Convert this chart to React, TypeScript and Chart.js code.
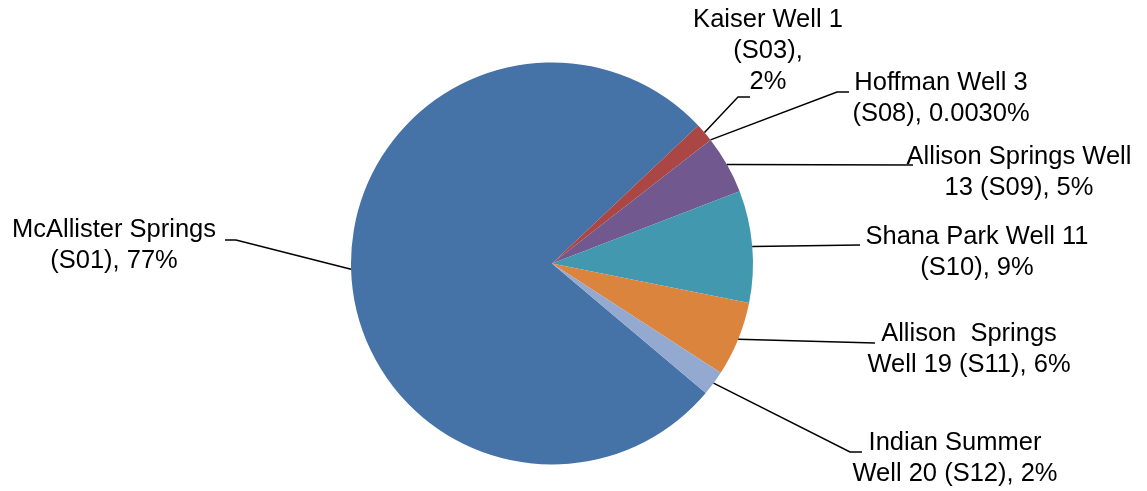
import React, { useEffect, useRef } from "react";
import { Chart, registerables } from "chart.js";

Chart.register(...registerables);

const categories: string[][] = [
  ["McAllister Springs", "(S01), 77%"],
  ["Kaiser Well 1", "(S03),", "2%"],
  ["Hoffman Well 3", "(S08), 0.0030%"],
  ["Allison Springs Well", "13 (S09), 5%"],
  ["Shana Park Well 11", "(S10), 9%"],
  ["Allison  Springs", "Well 19 (S11), 6%"],
  ["Indian Summer", "Well 20 (S12), 2%"],
];

const shares: number[] = [76.9, 1.5, 0.003, 4.7, 9.0, 6.0, 2.0];

const sliceColors: string[] = [
  "#4572A7",
  "#AA4643",
  "#89A54E",
  "#71588F",
  "#4198AF",
  "#DB843D",
  "#93A9CF",
];

// label layout: text center x, first line center y, leader bend points
const labelLayout = [
  { cx: 114, cy: 230, bends: [[236, 240], [225, 240]] },
  { cx: 768, cy: 20, bends: [[738, 97], [750, 97]] },
  { cx: 941, cy: 83, bends: [[837, 92], [849, 92]] },
  { cx: 1019, cy: 157, bends: [[913, 165]] },
  { cx: 977, cy: 237, bends: [[860, 245]] },
  { cx: 969, cy: 334, bends: [[875, 343]] },
  { cx: 955, cy: 443, bends: [[850, 452], [862, 452]] },
];

const FONT = "25.5px 'Liberation Sans', Arial, sans-serif";
const LINE_H = 31;

const labelPlugin = {
  id: "pieLabels",
  afterDraw(chart: any) {
    const ctx = chart.ctx as CanvasRenderingContext2D;
    const meta = chart.getDatasetMeta(0);
    ctx.save();
    meta.data.forEach((arc: any, i: number) => {
      const p = arc.getProps(["x", "y", "startAngle", "endAngle", "outerRadius"], true);
      const mid = (p.startAngle + p.endAngle) / 2;
      const sx = p.x + Math.cos(mid) * p.outerRadius;
      const sy = p.y + Math.sin(mid) * p.outerRadius;
      const lay = labelLayout[i];
      ctx.beginPath();
      ctx.strokeStyle = "#000";
      ctx.lineWidth = 1.5;
      ctx.moveTo(sx, sy);
      lay.bends.forEach((b) => ctx.lineTo(b[0], b[1]));
      ctx.stroke();
      ctx.fillStyle = "#000";
      ctx.font = FONT;
      ctx.textAlign = "center";
      ctx.textBaseline = "middle";
      categories[i].forEach((line, k) => {
        ctx.fillText(line, lay.cx, lay.cy + k * LINE_H);
      });
    });
    ctx.restore();
  },
};

export default function App() {
  const ref = useRef<HTMLCanvasElement | null>(null);
  useEffect(() => {
    if (!ref.current) return;
    const chart = new Chart(ref.current, {
      type: "pie",
      data: {
        labels: categories.map((c) => c.join(" ")),
        datasets: [
          {
            data: shares,
            backgroundColor: sliceColors,
            borderWidth: 0,
          },
        ],
      },
      options: {
        responsive: false,
        animation: false,
        events: [],
        rotation: 130.1,
        layout: { padding: { left: 351, right: 394, top: 62, bottom: 26 } },
        plugins: {
          legend: { display: false },
          tooltip: { enabled: false },
        },
      },
      plugins: [labelPlugin],
    });
    return () => chart.destroy();
  }, []);
  return (
    <div style={{ position: "fixed", left: 0, top: 0, width: 1147, height: 491, background: "#fff" }}>
      <canvas ref={ref} width={1147} height={491} />
    </div>
  );
}
